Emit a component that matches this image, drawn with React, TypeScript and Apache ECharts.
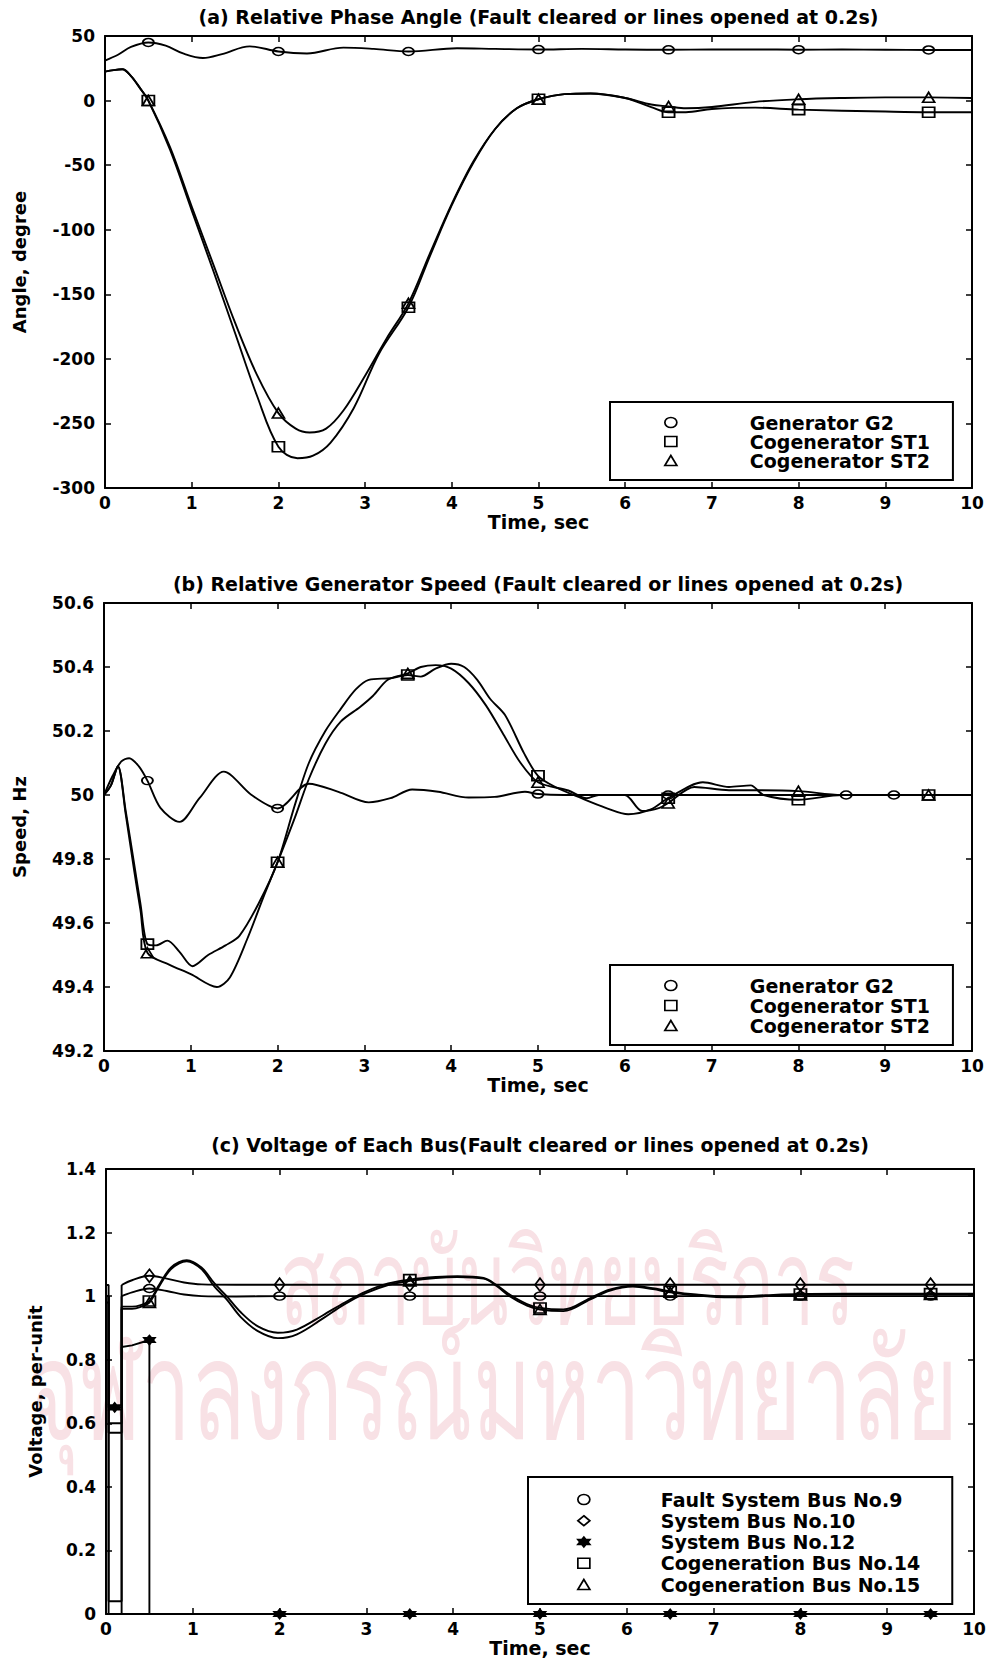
import React, { useEffect, useRef } from "react";
import * as echarts from "echarts";

const FONT = "DejaVu Sans";

const titles = [
  "(a) Relative Phase Angle (Fault cleared or lines opened at 0.2s)",
  "(b) Relative Generator Speed (Fault cleared or lines opened at 0.2s)",
  "(c) Voltage of Each Bus(Fault cleared or lines opened at 0.2s)",
];
const xName = "Time, sec";
const yNames = ["Angle, degree", "Speed, Hz", "Voltage, per-unit"];
const yMin = [-300, 49.2, 0];
const yMax = [50, 50.6, 1.4];
const yStep = [50, 0.2, 0.2];
const xMin = 0;
const xMax = 10;
const xStep = 1;

const watermarkLines = ["สถาบันวิทยบริการ", "จุฬาลงกรณ์มหาวิทยาลัย"];

const markerTimes = [0.5, 2, 3.5, 5, 6.5, 8, 9.5];
const markerTimesG2Speed = [0.5, 2, 3.5, 5, 6.5, 8.55, 9.1];
const markerTimesBus12 = [0.1, 0.5, 2, 3.5, 5, 6.5, 8, 9.5];

const legendA = ["Generator G2", "Cogenerator ST1", "Cogenerator ST2"];
const legendC = [
  "Fault System Bus No.9",
  "System Bus No.10",
  "System Bus No.12",
  "Cogeneration Bus No.14",
  "Cogeneration Bus No.15",
];

// (a) angle, degree  [time s, value]
const angleG2 = [
  [0, 31], [0.15, 35.5], [0.3, 41.5], [0.5, 45], [0.7, 42.5], [0.9, 36.5], [1.13, 33],
  [1.35, 36], [1.67, 42], [2, 38], [2.33, 36.5], [2.75, 41], [3.1, 40], [3.5, 38],
  [4.06, 40.5], [4.5, 40], [5, 39.5], [5.5, 40], [6, 39.6], [6.5, 39.3], [7, 39.6],
  [7.5, 39.6], [8, 39.4], [8.5, 39.5], [9, 39.4], [9.5, 39.2], [10, 39.2],
];
const angleST1 = [
  [0, 22.4], [0.1, 23.6], [0.2, 24.2], [0.3, 19], [0.4, 10], [0.5, 0], [0.75, -38],
  [1, -85], [1.25, -132], [1.5, -180], [1.75, -228], [2, -268], [2.22, -277], [2.4, -275],
  [2.6, -265], [2.87, -238], [3.16, -196], [3.5, -160], [3.75, -120], [4, -81], [4.25, -48],
  [4.5, -22], [4.75, -6], [5, 1], [5.3, 5], [5.6, 5.5], [6, 2], [6.3, -5], [6.5, -9],
  [6.7, -9], [7, -6.5], [7.5, -5.5], [8, -7], [9, -8.5], [9.5, -9], [10, -9],
];
const angleST2 = [
  [0, 22.4], [0.1, 23.6], [0.2, 24.2], [0.3, 19], [0.4, 10], [0.5, 0], [0.75, -36],
  [1, -82], [1.25, -127], [1.5, -172], [1.75, -212], [2, -242], [2.2, -254], [2.36, -257],
  [2.55, -254], [2.75, -240], [3, -213], [3.25, -184], [3.5, -157], [3.75, -118], [4, -80],
  [4.25, -47], [4.5, -22], [4.75, -6], [5, 1], [5.3, 5], [5.6, 5.5], [6, 2], [6.3, -3],
  [6.5, -4.5], [6.7, -6], [7, -5], [7.5, -1], [8, 1], [8.5, 2], [9, 2.5], [9.5, 2.5], [10, 2],
];

// (b) speed, Hz
const speedG2 = [
  [0, 50], [0.1, 50.06], [0.2, 50.105], [0.29, 50.115], [0.4, 50.09], [0.5, 50.045],
  [0.65, 49.96], [0.87, 49.916], [1.1, 49.99], [1.38, 50.073], [1.7, 50.0], [2, 49.958],
  [2.36, 50.035], [2.7, 50.01], [3.05, 49.977], [3.3, 49.99], [3.55, 50.017], [3.85, 50.01],
  [4.2, 49.992], [4.5, 49.994], [4.85, 50.01], [5, 50.003], [5.3, 50], [6.5, 50],
  [8.55, 50], [9.1, 50], [10, 50],
];
const speedST1 = [
  [0, 50], [0.08, 50.03], [0.16, 50.09], [0.25, 49.95], [0.35, 49.78], [0.42, 49.66],
  [0.5, 49.534], [0.6, 49.53], [0.73, 49.545], [0.87, 49.51], [1.02, 49.465], [1.2, 49.5],
  [1.4, 49.53], [1.56, 49.56], [1.78, 49.66], [2, 49.79], [2.2, 49.97], [2.36, 50.1],
  [2.55, 50.2], [2.73, 50.27], [2.9, 50.33], [3.05, 50.36], [3.3, 50.365], [3.5, 50.375],
  [3.65, 50.37], [3.82, 50.395], [4, 50.41], [4.15, 50.4], [4.3, 50.36], [4.45, 50.3],
  [4.62, 50.25], [4.84, 50.13], [5, 50.06], [5.2, 50.025], [5.5, 49.99], [5.78, 49.96],
  [6.04, 49.94], [6.3, 49.955], [6.5, 49.99], [6.9, 50.04], [7.2, 50.025], [7.45, 50.03],
  [7.6, 50.0], [8, 49.985], [8.5, 50], [9.5, 50], [10, 50],
];
const speedST2 = [
  [0, 50], [0.08, 50.03], [0.16, 50.09], [0.25, 49.94], [0.35, 49.76], [0.42, 49.64],
  [0.5, 49.507], [0.75, 49.47], [1, 49.44], [1.3, 49.4], [1.45, 49.43], [1.65, 49.55],
  [1.85, 49.69], [2, 49.79], [2.2, 49.93], [2.36, 50.05], [2.55, 50.16], [2.73, 50.23],
  [2.95, 50.275], [3.1, 50.31], [3.27, 50.36], [3.5, 50.38], [3.65, 50.4], [3.82, 50.406],
  [4, 50.395], [4.2, 50.35], [4.4, 50.28], [4.6, 50.19], [4.8, 50.1], [5, 50.04],
  [5.35, 50.014], [5.56, 49.99], [5.7, 50], [6, 50], [6.2, 49.95], [6.4, 49.96],
  [6.5, 49.975], [6.8, 50.025], [7.2, 50.015], [7.5, 50.015], [8, 50.012], [8.5, 50],
  [9.5, 50], [10, 50],
];

// (c) voltage, per-unit  (during fault / after clearing)
const bus9Fault = [[0, 1.0], [0.03, 1.0], [0.03, 0], [0.18, 0], [0.18, 1.0]];
const bus9Post = [
  [0.18, 1.0], [0.3, 1.012], [0.5, 1.024], [0.7, 1.016], [0.9, 1.005], [1.1, 1.0],
  [1.5, 0.999], [2, 1.0], [3.5, 1.0], [5, 1.0], [6.5, 1.0], [8, 1.0], [9.5, 1.0], [10, 1.0],
];
const bus10Fault = [[0, 1.035], [0.03, 1.035], [0.03, 0.04], [0.18, 0.04], [0.18, 1.035]];
const bus10Post = [
  [0.18, 1.035], [0.3, 1.05], [0.5, 1.064], [0.7, 1.055], [0.9, 1.043], [1.1, 1.037],
  [1.5, 1.036], [2, 1.036], [3.5, 1.036], [5, 1.036], [6.5, 1.036], [8, 1.036],
  [9.5, 1.036], [10, 1.036],
];
const bus12All = [
  [0, 1.0], [0.03, 1.0], [0.03, 0.65], [0.1, 0.65], [0.18, 0.65], [0.18, 0.84], [0.3, 0.845],
  [0.5, 0.862], [0.5, 0], [2, 0], [3.5, 0], [5, 0], [6.5, 0], [8, 0], [9.5, 0], [10, 0],
];
const bus14Fault = [[0, 1.0], [0.03, 1.0], [0.03, 0.6], [0.18, 0.6], [0.18, 0.967]];
const bus14Post = [
  [0.18, 0.967], [0.3, 0.967], [0.4, 0.972], [0.5, 0.985], [0.6, 1.03], [0.75, 1.09],
  [0.93, 1.113], [1.1, 1.09], [1.25, 1.04], [1.39, 1.0], [1.55, 0.95], [1.75, 0.905],
  [1.98, 0.885], [2.2, 0.895], [2.5, 0.94], [2.75, 0.98], [3, 1.015], [3.25, 1.04],
  [3.5, 1.052], [3.8, 1.06], [4.05, 1.063], [4.35, 1.057], [4.5, 1.035], [4.65, 1.005],
  [4.85, 0.975], [5, 0.963], [5.27, 0.958], [5.58, 0.994], [5.8, 1.02], [6.07, 1.033],
  [6.3, 1.025], [6.5, 1.015], [6.8, 1.005], [7.2, 0.998], [7.6, 1.003], [8, 1.007],
  [8.5, 1.008], [9, 1.008], [9.5, 1.008], [10, 1.008],
];
const bus15Fault = [[0, 0.98], [0.03, 0.98], [0.03, 0.57], [0.18, 0.57], [0.18, 0.96]];
const bus15Post = [
  [0.18, 0.96], [0.3, 0.96], [0.4, 0.966], [0.5, 0.98], [0.6, 1.025], [0.75, 1.085],
  [0.93, 1.11], [1.1, 1.085], [1.25, 1.03], [1.39, 0.99], [1.55, 0.935], [1.75, 0.89],
  [1.98, 0.868], [2.2, 0.88], [2.5, 0.93], [2.75, 0.975], [3, 1.01], [3.25, 1.035],
  [3.5, 1.048], [3.8, 1.057], [4.05, 1.06], [4.35, 1.055], [4.5, 1.032], [4.65, 1.0],
  [4.85, 0.97], [5, 0.958], [5.27, 0.953], [5.58, 0.99], [5.8, 1.017], [6.07, 1.03],
  [6.3, 1.022], [6.5, 1.012], [6.8, 1.002], [7.2, 0.996], [7.6, 1.0], [8, 1.004],
  [8.5, 1.005], [9, 1.005], [9.5, 1.005], [10, 1.005],
];

// ---------- styling / layout ----------
const GRIDS = [
  { left: 105, top: 36, width: 867, height: 452 },
  { left: 104, top: 603, width: 868, height: 448 },
  { left: 106, top: 1169, width: 868, height: 445 },
];
const TITLE_TOPS = [7, 574, 1135];
const Y_NAME_GAPS = [77, 76, 62];

const SYM_OVAL = "path://M0,-1A1,1 0 1,1 0,1A1,1 0 1,1 0,-1Z";
const SYM_STAR =
  "path://M0,-10L2.9,-5L8.66,-5L5.8,0L8.66,5L2.9,5L0,10L-2.9,5L-8.66,5L-5.8,0L-8.66,-5L-2.9,-5Z";
const SYM = {
  circle: { symbol: SYM_OVAL, size: [11, 8], fill: "rgba(0,0,0,0)" },
  square: { symbol: "rect", size: [12, 10], fill: "rgba(0,0,0,0)" },
  triangle: { symbol: "triangle", size: [12, 10], fill: "rgba(0,0,0,0)" },
  diamond: { symbol: "diamond", size: [10, 13], fill: "rgba(0,0,0,0)" },
  star: { symbol: SYM_STAR, size: [11, 9], fill: "#000" },
};

function buildData(pts: number[][], marks: number[]) {
  const used = new Set<number>();
  return pts.map(([t, v]) => {
    const m = marks.find((mt) => Math.abs(mt - t) < 1e-6);
    if (m !== undefined && !used.has(m)) {
      used.add(m);
      return { value: [t, v] };
    }
    return { value: [t, v], symbol: "none" };
  });
}

function line(name: string, pts: number[][], marks: number[], sym: any, gi: number, smooth: any) {
  return {
    type: "line",
    name,
    xAxisIndex: gi * 2,
    yAxisIndex: gi * 2,
    data: buildData(pts, marks),
    smooth,
    symbol: sym.symbol,
    symbolSize: sym.size,
    symbolKeepAspect: false,
    showSymbol: true,
    clip: false,
    lineStyle: { color: "#000", width: 1.9 },
    itemStyle: { color: sym.fill, borderColor: "#000", borderWidth: 1.7 },
    emphasis: { disabled: true },
    z: 3,
  };
}

const fmt = (v: number) => String(Math.round(v * 100) / 100);

const AXIS_LINE = { show: true, onZero: false, lineStyle: { color: "#000", width: 2 } };
const AXIS_TICK = { show: true, inside: true, length: 6, lineStyle: { color: "#000", width: 1.5 } };
const TXT = { color: "#000", fontFamily: FONT, fontWeight: "bold" as const, fontSize: 17 };

function legendItem(name: string, sym: any) {
  return {
    name,
    icon: sym.symbol,
    itemStyle: { color: sym.fill, borderColor: "#000", borderWidth: 1.7 },
  };
}

export default function App() {
  const ref = useRef<HTMLDivElement>(null);
  useEffect(() => {
    if (!ref.current) return;
    const chart = echarts.init(ref.current, null, { renderer: "svg" });

    const xAxis: any[] = [];
    const yAxis: any[] = [];
    GRIDS.forEach((_, i) => {
      xAxis.push({
        type: "value", gridIndex: i, min: xMin, max: xMax, interval: xStep, position: "bottom",
        name: xName, nameLocation: "middle", nameGap: 24, nameTextStyle: { ...TXT, fontSize: 19 },
        axisLine: AXIS_LINE, axisTick: AXIS_TICK, splitLine: { show: false },
        axisLabel: { ...TXT, margin: 6, formatter: fmt },
      });
      xAxis.push({
        type: "value", gridIndex: i, min: xMin, max: xMax, interval: xStep, position: "top",
        axisLine: AXIS_LINE, axisTick: AXIS_TICK, splitLine: { show: false },
        axisLabel: { show: false },
      });
      yAxis.push({
        type: "value", gridIndex: i, min: yMin[i], max: yMax[i], interval: yStep[i], position: "left",
        name: yNames[i], nameLocation: "middle", nameRotate: 90, nameGap: Y_NAME_GAPS[i],
        nameTextStyle: { ...TXT, fontSize: 18 },
        axisLine: AXIS_LINE, axisTick: AXIS_TICK, splitLine: { show: false },
        axisLabel: { ...TXT, margin: 10, formatter: fmt },
      });
      yAxis.push({
        type: "value", gridIndex: i, min: yMin[i], max: yMax[i], interval: yStep[i], position: "right",
        axisLine: AXIS_LINE, axisTick: AXIS_TICK, splitLine: { show: false },
        axisLabel: { show: false },
      });
    });

    const series: any[] = [
      line(legendA[0], angleG2, markerTimes, SYM.circle, 0, 0.35),
      line(legendA[1], angleST1, markerTimes, SYM.square, 0, 0.35),
      line(legendA[2], angleST2, markerTimes, SYM.triangle, 0, 0.35),
      line(legendA[0] + " ", speedG2, markerTimesG2Speed, SYM.circle, 1, 0.3),
      line(legendA[1] + " ", speedST1, markerTimes, SYM.square, 1, 0.3),
      line(legendA[2] + " ", speedST2, markerTimes, SYM.triangle, 1, 0.3),
      line(legendC[0], bus9Fault, [], SYM.circle, 2, false),
      line(legendC[0], bus9Post, markerTimes, SYM.circle, 2, 0.35),
      line(legendC[1], bus10Fault, [], SYM.diamond, 2, false),
      line(legendC[1], bus10Post, markerTimes, SYM.diamond, 2, 0.35),
      line(legendC[2], bus12All, markerTimesBus12, SYM.star, 2, false),
      line(legendC[3], bus14Fault, [], SYM.square, 2, false),
      line(legendC[3], bus14Post, markerTimes, SYM.square, 2, 0.35),
      line(legendC[4], bus15Fault, [], SYM.triangle, 2, false),
      line(legendC[4], bus15Post, markerTimes, SYM.triangle, 2, 0.35),
    ];

    const legendBase = {
      orient: "vertical",
      selectedMode: false,
      itemWidth: 12,
      itemHeight: 10,
      borderColor: "#000",
      borderWidth: 2,
      borderRadius: 0,
      backgroundColor: "#fff",
      symbolKeepAspect: false,
      z: 6,
    };
    const legTxt = { color: "#000", fontFamily: FONT, fontWeight: "bold", fontSize: 19, lineHeight: 18 };

    const option: any = {
      animation: false,
      backgroundColor: "#fff",
      grid: GRIDS.map((g) => ({ ...g, containLabel: false })),
      xAxis,
      yAxis,
      title: titles.map((text, i) => ({
        text,
        left: GRIDS[i].left + GRIDS[i].width / 2,
        top: TITLE_TOPS[i],
        textAlign: "center",
        padding: 0,
        textStyle: { ...TXT, fontSize: 19, lineHeight: 20 },
      })),
      legend: [
        {
          ...legendBase, left: 610, top: 402, itemGap: 0, padding: [11, 23, 10, 54],
          textStyle: { ...legTxt, padding: [0, 0, 0, 68] },
          data: [legendItem(legendA[0], SYM.circle), legendItem(legendA[1], SYM.square), legendItem(legendA[2], SYM.triangle)],
        },
        {
          ...legendBase, left: 610, top: 965, itemGap: 1, padding: [11, 23, 10, 54],
          textStyle: { ...legTxt, padding: [0, 0, 0, 68] },
          formatter: (n: string) => n.trim(),
          data: [
            legendItem(legendA[0] + " ", SYM.circle),
            legendItem(legendA[1] + " ", SYM.square),
            legendItem(legendA[2] + " ", SYM.triangle),
          ],
        },
        {
          ...legendBase, left: 528, top: 1477, itemGap: 2.25, padding: [13, 32, 10, 49],
          textStyle: { ...legTxt, padding: [0, 0, 0, 66] },
          data: [
            legendItem(legendC[0], SYM.circle),
            legendItem(legendC[1], SYM.diamond),
            legendItem(legendC[2], SYM.star),
            legendItem(legendC[3], SYM.square),
            legendItem(legendC[4], SYM.triangle),
          ],
        },
      ],
      graphic: [
        {
          type: "text", x: 567, y: 1278, scaleY: 1.6, z: -10, silent: true,
          style: { text: watermarkLines[0], fill: "#f8e1e5", font: '74px "Noto Sans"', align: "center", verticalAlign: "middle" },
        },
        {
          type: "text", x: 493, y: 1386, scaleY: 1.55, z: -10, silent: true,
          style: { text: watermarkLines[1], fill: "#f8e1e5", font: '89px "Noto Sans"', align: "center", verticalAlign: "middle" },
        },
      ],
      series,
    };
    chart.setOption(option);
    return () => chart.dispose();
  }, []);

  return (
    <div
      ref={ref}
      style={{ position: "absolute", left: 0, top: 0, width: 991, height: 1663, background: "#fff" }}
    />
  );
}
